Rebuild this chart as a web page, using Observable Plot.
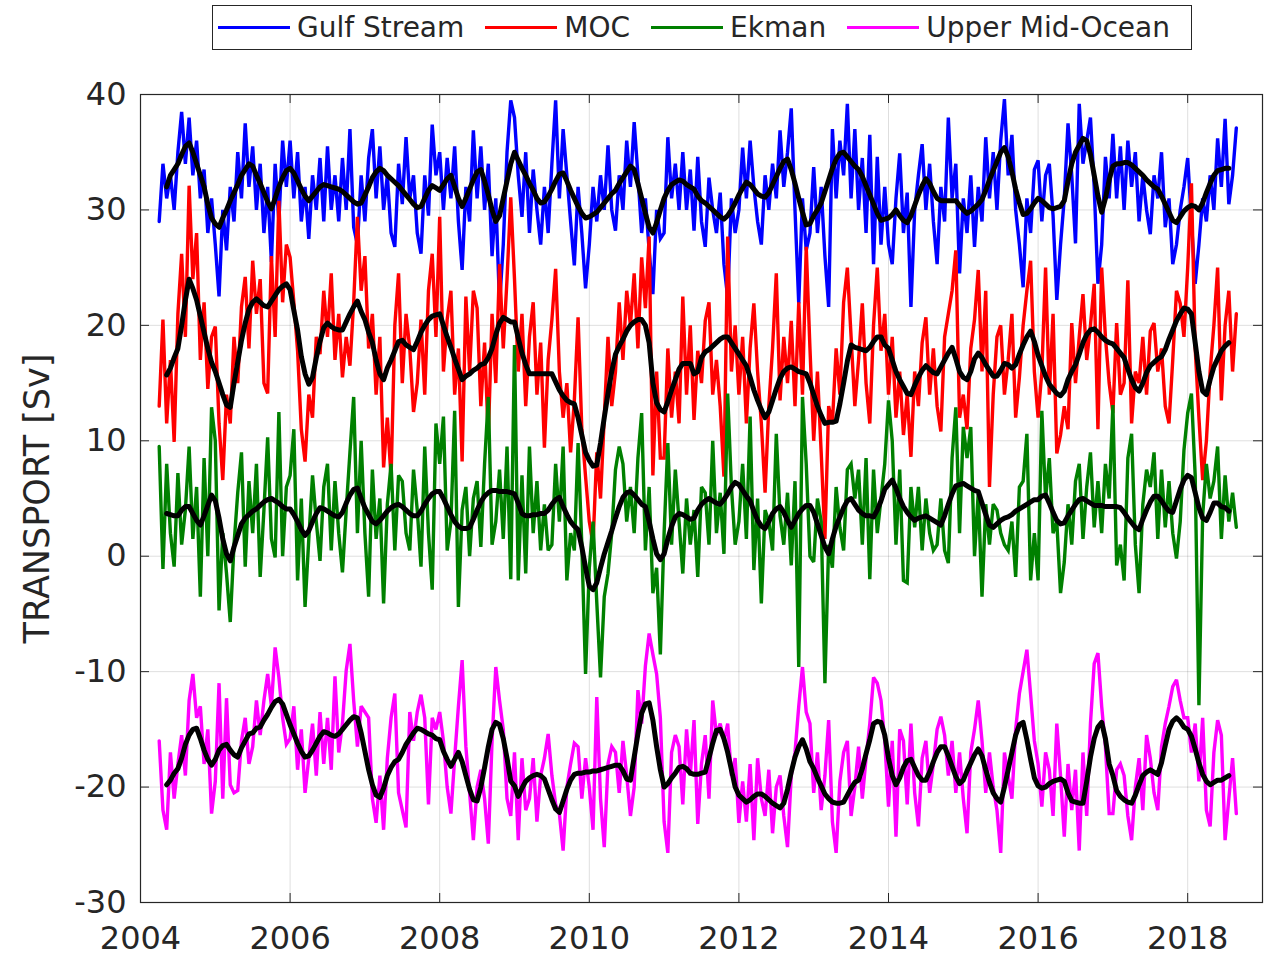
<!DOCTYPE html>
<html><head><meta charset="utf-8">
<script src="https://cdn.jsdelivr.net/npm/d3@7"></script>
<script src="https://cdn.jsdelivr.net/npm/@observablehq/plot@0.6"></script>
<style>
body{margin:0;background:#fff;}
#wrap{position:relative;width:1276px;height:959px;}
#legend{position:absolute;left:212px;top:5px;width:980px;height:45px;border:1.5px solid #262626;background:#fff;display:flex;align-items:center;font-family:"DejaVu Sans";font-size:28px;color:#262626;box-sizing:border-box;padding-left:5px;z-index:2;}
.item{display:flex;align-items:center;margin-right:21px;}
.sw{width:72px;height:3px;margin-right:7px;}
g[aria-label="y-axis label"] text{font-size:35px;}
</style></head><body><div id="wrap"><div id="legend"></div></div>
<script>
// ---- data ----
const seriesNames = ["Gulf Stream", "MOC", "Ekman", "Upper Mid-Ocean"];
const seriesColors = ["#0000ff", "#ff0000", "#008000", "#ff00ff"];
const rawStart = 2004.25, rawStep = 0.05;      // years
const smoothStart = 2004.35, smoothStep = 0.05; // years

const gulfStream = [
29,34,31,33,30,35,38.5,34,38,33,36,31,33.5,28,31,
27,22.5,30,26.5,32,29,35,31,37.5,32,35.5,30,34,28,32,25.5,34,29,36,32,
36,31,35,29,32,27.5,33,30,34.5,29,35.5,30,33,29,34.5,30,37,28.5,27,33,
29,34.5,37,31,35.5,30,33,28,26.8,34,30.5,36.3,31,33,28,26.2,33,29.5,37.4,33,
35,30,34.5,31,35.5,29,24.8,32,29,36.9,31,35.5,30,34,26,31,21.8,27,35,39.5,
38,33,29.4,35,28,33.5,30,27,32,28,34,39.5,31,37,33,29,25.2,32,28,23.2,
27,32,29,33,30,35.6,30,28.2,33,30,36,32,37.6,33,28,31,26.5,22.7,30,27.5,
28,36.3,31,34,30,35,30,33.5,28.2,34.6,29,26.8,32.8,30,28,31.5,25.3,22.4,31,28,
30,35.4,31,36,32,29,27,33,30,34,31,36.9,32,35,38.8,30,21.9,31,26.5,28,
33.7,28,32,26,21.6,37,31,36,33,39.2,31,37,30,34.5,28,36.5,25.3,34.6,27,32,
27,25.3,31,34.9,28,31.5,21.6,30,33,35.7,30,34,29,25.3,32,29,38,31,34,24.5,
31,28,33,26.8,32,29,36.3,31,35,30,36,39.6,33,36.5,30,27,23.3,31,28,33.5,
34.3,29,33,34,29.5,22.2,27,31,37.5,33,27.1,39.2,34,36,38,32,23.6,27,34.6,31,
36.6,31,35.5,30,36,32,35,29,33,30,27.9,33,31,35,28.5,31,25.3,27,30,32,
34.5,29,23.6,27,31,29,33,30,36.2,32,37.9,30.5,33,37.1];

const moc = [
13,20.5,11.5,17,9.9,21,26.2,19,32.1,24,28,17,22,14.5,19,
19.9,11.5,6.6,14,11.5,19,15,21.6,24.2,18,25.6,21,24,15,14.1,26,19,30.8,22,27,
25.9,22,17.8,11,8.2,14,12,19,17.5,23,19,24.5,17,21,15.5,19,16.5,22,29.4,23,
26,18,21,14,19,7.7,12,6.8,20,24.5,15,21,18,12.5,15,20.5,14,23,26.2,19,
29.4,16,20.5,23,14,18,8.2,22.5,16,23,21.5,13,18.5,10.3,21,15,25.3,18,24,31.1,
24,16,21,13,19,22,14,18.5,9.4,17,20.5,24.9,16,12,15,9,13.5,20.7,11,6.9,
3,1.1,9,5,12,19,13,16,22,17,23,20,24.5,18,25.9,21.5,27.7,7,16,8.5,
8.5,18,12,16,11.5,22.5,14,20,11.8,17.8,15,20.4,22,14,17,13,6.9,27.7,16,20,
14,19,11.5,18,21.9,16,11.5,5.5,13,18,24.5,13.5,19,15,20.4,13,22,14,26.8,18,
10,16,9,1.5,13,11.5,18,14,22,25,19,13,17,21.9,15,11.5,20,25,17.8,21,
14,19,12,16,10.5,14,8.6,16,13,18.5,20.7,14,18,13,10.8,19,21,23,26.5,12,
14,11,18,20.5,24.8,16,23,6,14,19,20,14,17,21,12,15.5,20,23,25.6,16,
12,16,25,14,21,8.9,10.5,13,11,20.2,15,19,22.7,17,20,23.6,11,25,19,15,
12.4,20.2,14,15,23.9,11.5,16,15,19,14,19.5,20.2,16,18,13,11.5,17,23,21.9,19,
25,32.3,18,12,6.6,10,16,20,25,13.5,20,23,16,21];

const ekman = [
9.5,-1.1,8,2,-0.9,7.2,1,4,9.5,1.5,6,-3.5,8.5,0,12.9,
10,-4.7,2,-1.5,-5.7,1,5.5,9,-0.9,6.5,2,8,-1.8,4,10.3,1.5,-0.1,12.5,0,6,
7,11,-2.1,5,-4.4,1.5,7,3,-0.4,6,8,0.5,6.5,2,-1.4,4,9,13.8,2,10,
2,-3.5,7.5,1.5,5,-4.1,4.5,8,0.5,7,6.5,2,0.5,7.5,4,-0.9,9.5,2,-2.9,11.5,
8,12.1,0.5,3,12.6,-4.4,4,6,0,5,6.5,0.8,8,13.8,1,3,7.5,1.5,9.5,-2,
18.3,-2.1,7,-1.5,9.5,2,6.5,0.5,4.5,0.5,1,8,3,9.5,-2.1,2,0.5,9.8,1,-10.2,
-1,3,-4,-10.5,-3.5,-1.5,2,7.5,9.5,8,3,6,2,8.5,12.4,0.5,6,-3.2,-1,-8.5,
2,9.8,1,7.5,3,-1.5,5,1,4,-1.8,6,5.5,1,10,2,5.5,0.2,14.1,6,1,
3,8,1.5,12.1,-1.2,5,-4.1,4,3,0.5,10.6,3.5,1,5.5,-0.8,6.5,-9.6,13.8,8,0,
-0.5,5,3,-11,1,-1,6,2.5,0.5,7.5,8,5,7.5,1,8.5,-2,7.5,2,5,8,
13.5,10,1,7.5,-2.1,-2.3,6,2.5,6,0.5,5,2,0.5,1,5,0.5,-0.6,8.5,12.9,2,
11.2,8.5,11.2,0,5.5,-3.5,4.5,1,4.5,4,2,1,0.5,3,-1.8,6,6.5,10.6,-2.1,2,
-2.1,12.6,5,8.5,2,3,-3.2,-0.5,4.5,1,6.5,8,1.5,6,9,2.5,6.5,2,8,5,
13.1,-0.8,1,-2.1,8.5,10.6,1,-3.2,4.5,7.5,6,9,1.5,7.5,2.5,6.5,2,-0.2,3,9.2,
12.4,14.1,7,-12.9,3.5,8,5,6.5,9.5,1.5,7,3,5.5,2.5];

const upperMidOcean = [
-16,-22,-23.7,-17,-21,-18,-15.5,-19,-12.5,-10.2,-14,-13,-18,-15,-22.3,
-19.5,-11,-21,-12.3,-19.8,-20.5,-20.3,-16,-14,-18,-16.5,-12.5,-15.5,-12.5,-10.2,-13,-7.9,-10.5,-14,-16.3,
-15.8,-13,-18.5,-15,-20.5,-17.5,-14.5,-19,-13.5,-18,-14,-18.5,-10.4,-17,-14.5,-9.9,-7.6,-12.5,-16.5,-13,
-13.5,-14,-21,-23.1,-19,-23.7,-17.5,-14,-11.9,-20.5,-22,-23.5,-13.5,-16,-13.5,-12,-14,-21.5,-14,-15,
-13.5,-16,-20,-22.3,-17.5,-13,-9,-16.5,-20.5,-24.6,-20,-18.5,-21,-24.9,-16,-9.6,-12.5,-15,-21,-22.5,
-17,-24.6,-17.5,-22,-21,-17.5,-23,-19,-17.5,-15.4,-19,-21.5,-22.3,-25.5,-20,-18,-16.2,-16.5,-21,-17.5,
-20,-23.7,-12.2,-21,-25.2,-18,-16.5,-17,-20.5,-16,-19,-22.5,-20,-11.6,-14.5,-9.5,-6.7,-8.5,-10.2,-14,
-23,-25.7,-17,-15.5,-16.5,-21.5,-15,-19,-14.2,-23.2,-18,-15.5,-21,-12.5,-15.5,-14.5,-16,-14.5,-19,-17.5,
-23.1,-19.5,-23,-18,-24.6,-17.5,-21,-22.5,-18.5,-24,-20,-19,-22.5,-25.2,-19,-17,-13,-9.6,-13.5,-14.5,
-20.5,-17,-22,-19,-14.2,-23,-25.7,-19.5,-17,-16,-22.5,-20,-16.5,-21,-17.5,-14.5,-10.5,-11,-12.5,-16,
-21.7,-16,-24.3,-15,-16,-21.5,-14.5,-20.5,-23.4,-17.5,-16,-20.5,-18,-15,-13.9,-15.5,-19,-16,-20.5,-17,
-21,-24,-17,-15,-12.5,-16,-20.5,-17,-20,-22,-25.7,-17,-19,-21,-15,-11.9,-10,-8.1,-12,-16,
-18,-21.7,-17,-18.5,-22.5,-14.5,-19,-24.3,-18,-22,-18.5,-25.5,-17,-22.5,-14.5,-9.3,-8.4,-13,-16.5,-22.3,
-22.3,-18.5,-18,-19,-22.5,-24.6,-20,-17.5,-22,-15.5,-17.5,-20.5,-22,-16.5,-14.5,-13,-11.3,-10.7,-12.5,-14,
-14,-17,-14.5,-19.5,-14,-22,-23.4,-17,-14.2,-15.5,-24.6,-21,-17.5,-22.3];

// low-pass (black) curves
const gulfStreamSmooth = [
32,33,33.5,34,34.8,35.5,35.8,35,34,33,32,30.5,29.3,
28.8,28.5,29.3,30,30.8,31.5,32.2,33,33.5,34,33.8,33,32.3,31.5,30.7,30.1,31,32,32.8,33.4,
33.6,33.2,32.5,31.8,31.2,30.8,31.2,31.6,32,32.2,32.1,32,31.9,31.8,31.6,31.3,31,30.7,30.5,30.6,
31.3,32,32.8,33.3,33.6,33.4,33,32.7,32.4,32.1,31.7,31.3,30.9,30.5,30.2,30.3,31,31.7,32.1,31.9,
31.7,32.2,32.7,33,32,31,30.3,31,31.8,32.6,33.3,33.5,32.5,31.3,30,29,29.5,31,32.5,34,
35,34.3,33.6,33,32.3,31.7,31,30.6,30.7,31.2,31.8,32.5,33.1,33.2,32.5,31.7,31,30.3,29.7,29.3,
29.4,29.6,29.8,30.2,30.6,31,31.4,31.7,32.3,32.8,33.3,33.8,33.5,32.3,31,29.7,28.5,28,28.9,30,
31,31.7,32.2,32.4,32.6,32.5,32.2,32,31.8,31.2,30.8,30.6,30.3,30,29.7,29.4,29.2,29.5,30,30.6,
31.3,31.9,32.4,32.2,31.8,31.4,31.2,31.1,31.5,32.2,32.9,33.6,34.2,34.4,33.5,32.3,31,29.8,28.7,28.8,
29.5,30,30.6,31.6,32.6,33.6,34.4,34.9,35,34.6,34.2,33.8,33.5,32.9,32.1,31.3,30.5,29.7,29.1,29.2,
29.3,29.6,30,29.5,29.1,28.9,29.5,30.4,31.3,32.1,32.7,32.3,31.6,31,30.8,30.8,30.8,30.8,30.8,30.4,
30,29.7,29.9,30.2,30.5,30.9,31.7,32.6,33.4,34.2,35,35.4,34.6,33.3,31.8,30.6,29.6,29.7,30.1,30.6,
31,30.8,30.5,30.2,30.1,30.2,30.3,30.8,32.5,34,35,35.6,36.2,36,34.8,33,31.2,29.8,31,32.6,
33.8,34,34,34.1,34.1,33.9,33.6,33.3,33,32.6,32.3,32,31.8,31.2,30.5,29.8,29.1,28.9,29.4,29.9,
30.2,30.4,30.3,30,30.6,31.5,32.3,33,33.4,33.5,33.6,33.6];

const mocSmooth = [
15.7,16.3,17.2,18,20,22.2,24,23.2,22.2,20.8,19.4,18,16.8,
16,15,14,13.1,12.9,15,16.8,18.7,20.2,21.4,22,22.3,22,21.7,21.6,22.1,22.6,23.1,23.4,23.6,
23.1,21.3,19.6,17.3,15.8,14.9,15.5,17.2,18.6,19.8,20.2,19.9,19.7,19.6,19.6,20.3,21,21.6,22.1,21.2,
20.5,19.4,18.5,17,15.8,15.3,16.3,17,17.8,18.6,18.7,18.3,18.1,17.9,18.6,19.4,20,20.5,20.8,20.9,
21,20,19,18.1,17.1,16.2,15.3,15.6,15.8,16.1,16.3,16.6,16.7,17.2,18,19.2,20.2,20.7,20.5,20.3,
20.3,18.9,17.6,16.6,15.8,15.8,15.8,15.8,15.8,15.8,15.8,15.1,14.4,13.9,13.5,13.3,13.2,12,10.5,9,
8.3,7.8,7.9,9.8,12,14.1,16,17.5,18.2,18.8,19.5,20,20.3,20.5,20.5,20,18.5,15,13.3,12.7,
12.5,13.4,14.4,15.3,16.2,16.7,16.7,16.7,15.8,16,17.2,17.7,17.9,18.2,18.5,18.8,19,19,18.5,18,
17.5,17,16.5,15.5,14.4,13.5,12.7,12,12.5,13.5,14.5,15.4,16,16.3,16.4,16.2,16,15.9,15.8,15,
14,13,12.2,11.5,11.6,11.6,11.7,13.2,15,16.9,18.3,18.1,18,17.9,17.8,18.1,18.6,19,19,18.3,
18,17,16,15.3,14.7,14.1,14,14.8,15.5,16.1,16.5,16.2,15.9,15.8,16.4,17,17.6,18.1,17.1,16,
15.5,15.3,16,17.1,17.6,17.2,16.6,16.1,15.6,15.6,16.1,16.7,16.6,16.3,16.6,17.5,18.3,19,19.5,18.6,
17.4,16.5,15.6,14.9,14.5,14.1,13.9,14.3,15.3,16,16.6,17.5,18.5,19.2,19.6,19.7,19.4,19,18.7,18.5,
18.4,18,17.6,17.2,16.2,15.3,14.6,14.3,15,15.9,16.5,16.8,17.1,17.3,17.9,18.8,19.6,20.4,21,21.5,
21.4,21,18.5,16,14.3,14,15.3,16.4,17.1,17.8,18.2,18.5];

const ekmanSmooth = [
3.7,3.6,3.5,3.5,4,4.3,4.3,3.7,3.1,2.7,3.5,4.4,5.3,
4.8,3.3,1.5,0.2,-0.4,0.8,1.8,2.8,3.3,3.6,3.9,4.1,4.4,4.7,4.9,5,4.8,4.6,4.3,4.1,
4.1,3.6,3,2.3,1.8,2.2,3,3.7,4.2,4.1,3.9,3.7,3.5,3.4,3.8,4.6,5.3,5.8,5.9,5,
4.2,3.6,3,2.8,3.1,3.5,3.9,4.2,4.4,4.5,4.3,4,3.7,3.5,3.5,3.9,4.5,5,5.4,5.6,
5.6,5,4.3,3.6,3,2.6,2.4,2.4,2.5,3.2,4,4.7,5.2,5.5,5.7,5.7,5.6,5.6,5.6,5.5,
5.4,4.6,3.7,3.5,3.5,3.6,3.6,3.7,3.7,4,4.5,4.9,5.1,4.3,3.6,3,2.6,2.3,0.8,-1,
-2.6,-2.9,-2.3,-1,0.2,1.2,2.2,3.3,4.3,5.1,5.5,5.6,5.3,4.9,4.5,4.3,3,1.5,0.2,-0.3,
0.2,1.5,2.6,3.4,3.7,3.6,3.4,3.2,3.3,4,4.5,4.8,5,4.8,4.6,4.5,4.9,5.4,6,6.4,
6.2,5.7,5.2,4.8,3.9,3.1,2.6,2.4,3,3.7,4.1,4.3,3.8,3.1,2.5,3.1,3.7,4.1,4.4,4.4,
3.8,2.8,1.8,0.8,0.2,1.5,2.6,3.4,4.2,4.8,5,4.5,4,3.7,3.5,3.5,3.4,4,4.8,5.8,
6.2,6.6,5.9,5,4.3,3.8,3.4,3.1,3.3,3.4,3.5,3.3,3.1,2.9,2.7,3.5,4.5,5.4,6.1,6.2,
6.3,6.1,5.9,5.7,5.6,4.6,3.6,2.7,2.5,2.8,3.1,3.3,3.4,3.6,3.9,4.1,4.3,4.5,4.7,4.9,
4.9,5.2,5.3,4.6,3.8,3.1,2.8,2.9,3.5,4,4.5,4.9,5,4.8,4.6,4.4,4.4,4.4,4.3,4.3,
4.3,4.3,4.2,3.8,3.3,2.9,2.5,2.3,3.2,4,4.7,5.2,5.2,4.8,4.3,3.9,3.8,4.8,5.8,6.6,
7,6.8,5.5,4.2,3.3,3.1,3.8,4.6,4.6,4.3,4.2,3.9];

const upperMidOceanSmooth = [
-19.8,-19.4,-18.8,-18.4,-17.5,-16.3,-15.5,-15,-14.9,-15.8,-16.8,-17.6,-18.1,
-17.6,-16.8,-16.4,-16.3,-16.8,-17.2,-17.4,-16.6,-16,-15.4,-15.3,-14.9,-14.8,-14.2,-13.7,-13.1,-12.6,-12.4,-12.8,-13.7,
-14.6,-15.4,-16.2,-16.9,-17.4,-17.3,-16.8,-16.2,-15.6,-15.2,-15.3,-15.5,-15.6,-15.4,-15,-14.6,-14.2,-13.9,-14,-15.3,
-16.9,-18.5,-19.8,-20.7,-20.9,-20.1,-19,-18.3,-17.8,-17.6,-17,-16.3,-15.8,-15.3,-14.9,-15,-15.2,-15.4,-15.5,-15.8,
-15.9,-16.9,-17.6,-18.2,-17.6,-17,-17.8,-19,-20.2,-21.1,-21.2,-20,-18.3,-16.5,-15,-14.4,-14.6,-15.8,-17.5,-19.5,
-19.9,-20.8,-20.1,-19.5,-19.2,-19,-18.9,-19,-19.3,-20.2,-21.1,-21.9,-22.2,-21.2,-20.2,-19.4,-18.9,-18.8,-18.8,-18.7,
-18.7,-18.6,-18.6,-18.5,-18.4,-18.3,-18.2,-18.1,-18.1,-18.6,-19.3,-19.4,-17.4,-15.4,-13.6,-12.8,-12.7,-14.2,-16.5,-18.5,
-20,-19.7,-19.2,-18.8,-18.3,-18.2,-18.4,-18.8,-18.9,-18.9,-18.8,-18.7,-17.5,-16.2,-15.1,-15,-15.8,-17,-18.5,-20,
-20.7,-21,-21.3,-21.1,-20.8,-20.6,-20.6,-20.8,-21.1,-21.4,-21.6,-21.8,-21.4,-20.2,-18.7,-17.4,-16.5,-15.9,-16.7,-17.8,
-18.4,-19.2,-19.9,-20.6,-21,-21.3,-21.4,-21.4,-21.3,-20.7,-20.1,-19.6,-19.4,-18.4,-17.1,-15.9,-14.5,-14.3,-14.4,-15.5,
-17.5,-19,-19.8,-19.2,-18.3,-17.7,-17.6,-18.3,-19,-19.4,-19.4,-18.7,-17.8,-17,-16.5,-16.5,-17.3,-18.2,-19.1,-19.7,
-19.4,-18.6,-17.9,-17.2,-16.7,-17.3,-18.5,-19.6,-20.5,-21,-21.3,-20,-18.5,-17,-15.5,-14.6,-14.4,-15.9,-17.6,-19.2,
-19.9,-20.1,-20,-19.7,-19.5,-19.4,-19.3,-19.5,-20.5,-21.2,-21.3,-21.4,-21.4,-19.5,-17.4,-15.8,-14.8,-14.4,-15.8,-18,
-19,-20.3,-20.8,-21.1,-21.3,-21.4,-20.7,-19.8,-19,-18.7,-18.5,-18.7,-18.9,-17.9,-16.4,-15,-14.3,-14,-14.3,-14.8,
-15,-15.6,-16.7,-17.9,-18.9,-19.5,-19.8,-19.6,-19.4,-19.4,-19.2,-19];

const xTicks = [2004, 2006, 2008, 2010, 2012, 2014, 2016, 2018];
const yTicks = [-30, -20, -10, 0, 10, 20, 30, 40];
const yLabel = "TRANSPORT [Sv]";

// ---- build tables ----
const rawSeries = [gulfStream, moc, ekman, upperMidOcean];
const smoothSeries = [gulfStreamSmooth, mocSmooth, ekmanSmooth, upperMidOceanSmooth];
const raw = [], smooth = [];
rawSeries.forEach((arr, k) => arr.forEach((v, i) =>
  raw.push({series: seriesNames[k], t: Math.round((rawStart + i * rawStep) * 1000) / 1000, v})));
smoothSeries.forEach((arr, k) => arr.forEach((v, i) =>
  smooth.push({series: seriesNames[k], t: Math.round((smoothStart + i * smoothStep) * 1000) / 1000, v})));

const W = 1276, H = 959, mt = 94, mr = 14, mb = 57, ml = 140;
const innerW = W - ml - mr, innerH = H - mt - mb, tk = 9;
const axisColor = "#262626";

const chart = Plot.plot({
  width: W, height: H,
  marginTop: mt, marginRight: mr, marginBottom: mb, marginLeft: ml,
  style: {fontFamily: "DejaVu Sans", fontSize: "32px", color: axisColor, background: "#fff", overflow: "visible"},
  x: {domain: [2004, 2019]},
  y: {domain: [-30, 40]},
  color: {domain: seriesNames, range: seriesColors},
  marks: [
    Plot.gridX(xTicks, {stroke: "#000", strokeOpacity: 0.13, strokeWidth: 1}),
    Plot.gridY(yTicks, {stroke: "#000", strokeOpacity: 0.13, strokeWidth: 1}),
    Plot.line(raw, {x: "t", y: "v", z: "series", stroke: "series", strokeWidth: 3.4, strokeLinejoin: "miter", strokeMiterlimit: 3}),
    Plot.line(smooth, {x: "t", y: "v", z: "series", stroke: "#000", strokeWidth: 5}),
    Plot.frame({stroke: axisColor, strokeWidth: 1.2}),
    Plot.tickX(xTicks, {x: d => d, insetTop: innerH - tk, stroke: axisColor}),
    Plot.tickX(xTicks, {x: d => d, insetBottom: innerH - tk, stroke: axisColor}),
    Plot.tickY(yTicks, {y: d => d, insetRight: innerW - tk, stroke: axisColor}),
    Plot.tickY(yTicks, {y: d => d, insetLeft: innerW - tk, stroke: axisColor}),
    Plot.axisX({ticks: xTicks, tickSize: 0, tickPadding: 24, tickFormat: d => String(d), label: null}),
    Plot.axisY({ticks: yTicks, tickSize: 0, tickPadding: 14, tickFormat: d => String(d),
      label: yLabel, labelAnchor: "center", labelOffset: 116, labelArrow: "none"})
  ]
});
document.getElementById("wrap").appendChild(chart);

// legend
const lg = document.getElementById("legend");
seriesNames.forEach((name, k) => {
  const it = document.createElement("div"); it.className = "item";
  const sw = document.createElement("div"); sw.className = "sw"; sw.style.background = seriesColors[k];
  const tx = document.createElement("span"); tx.textContent = name;
  it.appendChild(sw); it.appendChild(tx); lg.appendChild(it);
});
</script></body></html>
